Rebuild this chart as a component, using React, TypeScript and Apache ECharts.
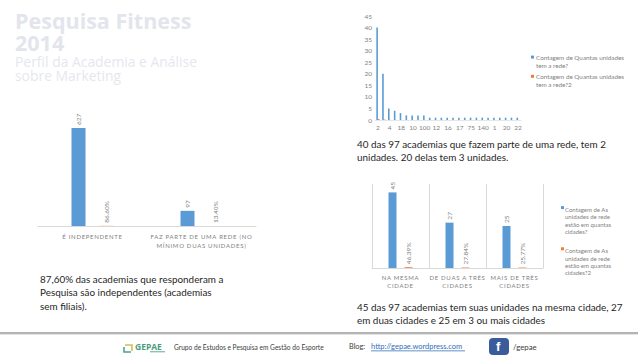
import React, { useEffect, useRef } from "react";
import * as echarts from "echarts";

const BLUE = "#5B9BD5";
const ORANGE = "#ED7D31";
const GREY = "#7F7F7F";
const FONT = "Lato";

// Chart 1
const independentCats = ["É INDEPENDENTE", "FAZ PARTE DE UMA REDE (NO\nMÍNIMO DUAS UNIDADES)"];
const independentCounts = [627, 97];
const independentShare = [0.866, 0.134];
const independentLabels = ["86.60%", "13.40%"];

// Chart 2
const unitCats = ["2", "3", "4", "5", "18", "6", "10", "8", "100", "7", "12", "15", "16", "14", "17", "30", "75", "9", "140", "40", "1", "25", "20", "50", "22"];
const unitCounts = [40, 20, 5, 4, 3, 2, 2, 2, 2, 1, 1, 1, 1, 1, 1, 1, 1, 1, 1, 1, 1, 1, 1, 1, 1];
const unitShare = [0.41, 0.21, 0.05, 0.04, 0.03, 0.02, 0.02, 0.02, 0.02, 0.01, 0.01, 0.01, 0.01, 0.01, 0.01, 0.01, 0.01, 0.01, 0.01, 0.01, 0.01, 0.01, 0.01, 0.01, 0.01];
const unitTicks = { max: 45, step: 5 };

// Chart 3
const cityCats = ["NA MESMA\nCIDADE", "DE DUAS A TRÊS\nCIDADES", "MAIS DE TRÊS\nCIDADES"];
const cityCounts = [45, 27, 25];
const cityShare = [0.4639, 0.2784, 0.2577];
const cityLabels = ["46.39%", "27.84%", "25.77%"];

// Legends
const seriesUnits = ["Contagem de Quantas unidades\ntem a rede?", "Contagem de Quantas unidades\ntem a rede?2"];
const seriesCities = ["Contagem de As\nunidades de rede\nestão em quantas\ncidades?", "Contagem de As\nunidades de rede\nestão em quantas\ncidades?2"];

// Texts
const titleText = "Pesquisa Fitness\n2014";
const subtitleText = "Perfil da Academia e Análise\nsobre Marketing";
const noteLeft = "87,60% das academias que responderam a\nPesquisa são independentes (academias\nsem filiais).";
const noteTop = "40 das 97 academias que fazem parte de uma rede, tem 2\nunidades. 20 delas tem 3 unidades.";
const noteBottom = "45 das 97 academias tem suas unidades na mesma cidade, 27\nem duas cidades e 25 em 3 ou mais cidades";
const footerGroup = "Grupo de Estudos e Pesquisa em Gestão do Esporte";

const rotatedLabel = (formatter?: any, size = 6.5) => ({
  show: true,
  position: "top" as const,
  rotate: 90,
  align: "left" as const,
  verticalAlign: "middle" as const,
  distance: 3,
  color: GREY,
  fontFamily: FONT,
  fontSize: size,
  ...(formatter ? { formatter } : {}),
});

const catAxisLabel = {
  color: GREY,
  fontFamily: FONT,
  fontSize: 6,
  lineHeight: 9,
  margin: 6,
  interval: 0,
};

const legendIcon2 = "path://M0 0h1v1h-1zM0 4h0";
const legendIcon4 = "path://M0 0h1v1h-1zM0 9.67h0";

const text = (x: number, y: number, t: string, size: number, fill: string, lineHeight: number, extra: any = {}) => ({
  type: "text",
  x,
  y,
  silent: true,
  style: { text: t, fill, fontFamily: FONT, fontSize: size, lineHeight, ...extra },
});

export default function App() {
  const ref = useRef<HTMLDivElement>(null);
  useEffect(() => {
    const chart = echarts.init(ref.current!, undefined, { renderer: "svg" });
    chart.setOption({
      animation: false,
      backgroundColor: "#ffffff",
      grid: [
        { left: 38, top: 101, width: 218, height: 125 },
        { left: 375, top: 16, width: 146, height: 104 },
        { left: 372, top: 184, width: 171, height: 84 },
      ],
      xAxis: [
        {
          type: "category", gridIndex: 0, data: independentCats,
          axisTick: { show: false },
          axisLine: { lineStyle: { color: "#D9D9D9" } },
          axisLabel: catAxisLabel,
        },
        {
          type: "category", gridIndex: 1, data: unitCats,
          axisTick: { show: false },
          axisLine: { lineStyle: { color: "#E6E6E6" } },
          axisLabel: { color: GREY, fontFamily: FONT, fontSize: 6.5, interval: 1, margin: 4 },
        },
        {
          type: "category", gridIndex: 2, data: cityCats,
          axisTick: { show: false },
          axisLine: { lineStyle: { color: "#D9D9D9" } },
          splitLine: { show: true, interval: 0, lineStyle: { color: "#D9D9D9" } },
          axisLabel: { ...catAxisLabel, lineHeight: 8, margin: 5 },
        },
      ],
      yAxis: [
        { type: "value", gridIndex: 0, min: 0, max: 800, show: false },
        {
          type: "value", gridIndex: 1, min: 0, max: unitTicks.max, interval: unitTicks.step,
          axisLine: { show: false }, axisTick: { show: false }, splitLine: { show: false },
          axisLabel: { color: GREY, fontFamily: FONT, fontSize: 6.5, margin: 3 },
        },
        { type: "value", gridIndex: 2, min: 0, max: 50, show: false },
      ],
      legend: [
        {
          data: seriesUnits, left: 531, top: 54, orient: "vertical", itemWidth: 3, itemHeight: 15, itemGap: 4,
          icon: legendIcon2, selectedMode: false, padding: 0,
          textStyle: { color: GREY, fontFamily: FONT, fontSize: 6.3, lineHeight: 7.6, padding: [0, 0, 0, -3] },
        },
        {
          data: seriesCities, left: 561, top: 206, orient: "vertical", itemWidth: 3, itemHeight: 29, itemGap: 12,
          icon: legendIcon4, selectedMode: false, padding: 0,
          textStyle: { color: GREY, fontFamily: FONT, fontSize: 6, lineHeight: 7.3, padding: [0, 0, 0, -4] },
        },
      ],
      series: [
        {
          type: "bar", name: "Contagem 1", xAxisIndex: 0, yAxisIndex: 0, data: independentCounts,
          barWidth: 14, barGap: "100%", itemStyle: { color: BLUE }, label: rotatedLabel(),
        },
        {
          type: "bar", name: "Contagem 1 %", xAxisIndex: 0, yAxisIndex: 0, data: independentShare,
          barWidth: 14, itemStyle: { color: ORANGE },
          label: rotatedLabel((p: any) => independentLabels[p.dataIndex]),
        },
        {
          type: "bar", name: seriesUnits[0], xAxisIndex: 1, yAxisIndex: 1, data: unitCounts,
          barWidth: 1.6, barGap: "0%", itemStyle: { color: BLUE },
        },
        {
          type: "bar", name: seriesUnits[1], xAxisIndex: 1, yAxisIndex: 1, data: unitShare,
          barWidth: 1.6, itemStyle: { color: ORANGE },
        },
        {
          type: "bar", name: seriesCities[0], xAxisIndex: 2, yAxisIndex: 2, data: cityCounts,
          barWidth: 8, barGap: "100%", itemStyle: { color: BLUE }, label: rotatedLabel(),
        },
        {
          type: "bar", name: seriesCities[1], xAxisIndex: 2, yAxisIndex: 2, data: cityShare,
          barWidth: 8, itemStyle: { color: ORANGE },
          label: rotatedLabel((p: any) => cityLabels[p.dataIndex]),
        },
      ],
      graphic: [
        text(15, 9, titleText, 21.5, "#E3E5EC", 22, { fontFamily: "Open Sans", fontWeight: "bold" }),
        text(15, 54, subtitleText, 13.9, "#E6E7EE", 14, { fontFamily: "Open Sans" }),
        text(40, 272, noteLeft, 9.9, "#262626", 13.5),
        text(357, 137, noteTop, 9.9, "#262626", 13.5),
        text(357, 300, noteBottom, 9.9, "#262626", 13.5),
        { type: "rect", silent: true, shape: { x: 0, y: 332, width: 638, height: 2 }, style: { fill: "#B4B4B4" } },
        { type: "rect", silent: true, shape: { x: 0, y: 334, width: 638, height: 1 }, style: { fill: "#E4E4E4" } },
        { type: "polyline", silent: true, shape: { points: [[124, 347], [124, 352], [131, 352]] }, style: { stroke: "#4FA38E", lineWidth: 1.6, fill: "none" } },
        { type: "polyline", silent: true, shape: { points: [[125, 345], [132, 345], [132, 351]] }, style: { stroke: "#D3BE5B", lineWidth: 1.6, fill: "none" } },
        text(135, 342, "GEPAE", 8.5, "#4B9C7C", 9, { fontFamily: "Open Sans", fontWeight: "bold" }),
        { type: "rect", silent: true, shape: { x: 150, y: 351, width: 15, height: 1.4 }, style: { fill: "#8CC3AE" } },
        text(174, 343, footerGroup, 6.6, "#404040", 8),
        text(349, 342.5, "Blog:", 7.3, "#404040", 8),
        text(371, 342.5, "http://gepae.wordpress.com", 7.5, "#2F6EBA", 8),
        { type: "rect", silent: true, shape: { x: 371, y: 350.5, width: 94, height: 0.7 }, style: { fill: "#2F6EBA" } },
        { type: "rect", silent: true, shape: { x: 489, y: 338, width: 20, height: 17, r: 4 }, style: { fill: "#3B5C9A" } },
        text(496, 339, "f", 13, "#FFFFFF", 15, { fontFamily: "Liberation Sans", fontWeight: "bold" }),
        text(513, 343, "/gepae", 7.8, "#404040", 8),
      ],
    });
    ref.current!.querySelectorAll("text").forEach((el) => {
      const s = el.textContent || "";
      if (/^[A-ZÉÍÊ ()]+$/.test(s) && s.length > 5) el.style.letterSpacing = "0.7px";
    });
    return () => chart.dispose();
  }, []);
  return <div ref={ref} style={{ position: "fixed", left: 0, top: 0, width: 638, height: 359 }} />;
}
